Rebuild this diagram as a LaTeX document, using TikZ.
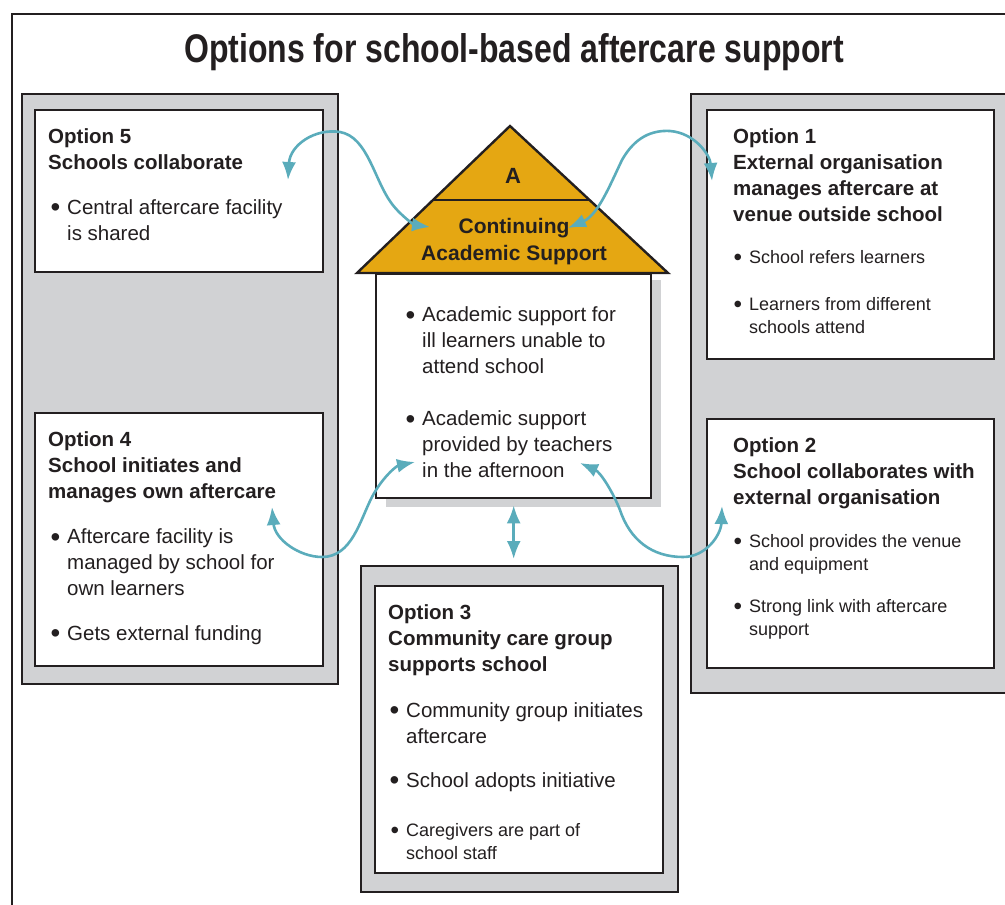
\documentclass[tikz,border=0pt]{standalone}
\usepackage{fontspec}
\usepackage{graphicx}
\setmainfont{Liberation Sans}
\newfontfamily\titlefont[FakeStretch=0.80]{Liberation Sans}
\usetikzlibrary{arrows.meta}
\usetikzlibrary{calc,positioning}

\definecolor{ink}{HTML}{231F20}
\definecolor{panelgray}{HTML}{D1D2D4}
\definecolor{roofgold}{HTML}{E5A712}
\definecolor{linkteal}{HTML}{5AACBB}

\tikzset{
  frame/.style={draw=ink, line width=2pt},
  panel/.style={draw=ink, line width=2pt, fill=panelgray, anchor=north west, inner sep=0pt},
  card/.style={draw=ink, line width=2.4pt, fill=white, anchor=north west, inner sep=0pt},
  head/.style={anchor=base west, align=left, inner sep=0pt, text=ink, font=\fontsize{20.5}{26}\selectfont\bfseries},
  item/.style={anchor=base west, align=left, inner sep=0pt, text=ink, font=\fontsize{20.5}{25.7}\selectfont},
  smallitem/.style={item, font=\fontsize{18}{23}\selectfont},
  link/.style={draw=linkteal, line width=2.6pt, {Latex[length=18pt,width=14pt]}-{Latex[length=18pt,width=14pt]}},
}
\newcommand{\bul}{\llap{\raisebox{-2.5pt}{\scalebox{1.35}{\textbullet}}\hspace{7pt}}}

\begin{document}
\begin{tikzpicture}[x=1pt, y=-1pt]
  \useasboundingbox (0,0) rectangle (1005,905);
  \draw[frame] (12,915) -- (12,14) -- (1015,14);

  \node[anchor=base, text=ink, font=\titlefont\fontsize{40}{44}\selectfont\bfseries] (title) at (514,62) {Options for school-based aftercare support};

  % side panels
  \node[panel, minimum width=316, minimum height=590] (leftpanel) at (21,93) {};
  \node[panel, minimum width=330, minimum height=599] (rightpanel) at (690,93) {};
  \node[panel, minimum width=317, minimum height=326] (midpanel) at (360,565) {};

  \node[card, minimum width=288, minimum height=162] (opt5) at (34,109) {};
  \node[card, minimum width=288, minimum height=253] (opt4) at (34,412) {};
  \node[card, minimum width=287, minimum height=249] (opt1) at (706,109) {};
  \node[card, minimum width=287, minimum height=249] (opt2) at (706,418) {};
  \node[card, minimum width=288, minimum height=287] (opt3) at (374,585) {};

  % house
  \coordinate (roofL) at (357,273);
  \coordinate (apex) at (510,126);
  \coordinate (roofR) at (668,273);
  \fill[panelgray, shift={(12,7)}] (roofL) -- (apex) -- (roofR) -- cycle;
  \fill[panelgray] (386,280) rectangle (661,507);
  \node[card, minimum width=275, minimum height=224] (body) at (375,273) {};
  \draw[draw=ink, line width=2.4pt, fill=roofgold, line join=miter] (roofL) -- (apex) -- (roofR) -- cycle;
  \draw[draw=ink, line width=2.4pt] ($(roofL)!0.497!(apex)$) -- ($(roofR)!0.497!(apex)$);
  \node[anchor=base, text=ink, font=\fontsize{22}{26}\selectfont\bfseries] (roofA) at (513,183) {A};
  \node[anchor=base, align=center, text=ink, font=\fontsize{21}{27}\selectfont\bfseries] (roofname) at (514,260) {Continuing\\Academic Support};

  % texts (placed at the baseline of their last line)
  \node[head] (h5) at (48,169) {Option 5\\Schools collaborate};
  \node[item] (b5a) at (67,240) {\bul Central aftercare facility\\is shared};

  \node[head] (h4) at (48,498) {Option 4\\School initiates and\\manages own aftercare};
  \node[item] (b4a) at (67,595) {\bul Aftercare facility is\\managed by school for\\own learners};
  \node[item] (b4b) at (67,640) {\bul Gets external funding};

  \node[head] (h1) at (733,221) {Option 1\\External organisation\\manages aftercare at\\venue outside school};
  \node[smallitem] (b1a) at (749,263) {\bul School refers learners};
  \node[smallitem] (b1b) at (749,333) {\bul Learners from different\\schools attend};

  \node[head] (h2) at (733,504) {Option 2\\School collaborates with\\external organisation};
  \node[smallitem] (b2a) at (749,570) {\bul School provides the venue\\and equipment};
  \node[smallitem] (b2b) at (749,635) {\bul Strong link with aftercare\\support};

  \node[item] (bha) at (422,373) {\bul Academic support for\\ill learners unable to\\attend school};
  \node[item] (bhb) at (422,477) {\bul Academic support\\provided by teachers\\in the afternoon};

  \node[head] (h3) at (388,671) {Option 3\\Community care group\\supports school};
  \node[item] (b3a) at (406,743) {\bul Community group initiates\\aftercare};
  \node[item] (b3b) at (406,787) {\bul School adopts initiative};
  \node[smallitem] (b3c) at (406,859) {\bul Caregivers are part of\\school staff};

  % links
  \coordinate (e5) at (288,180);
  \coordinate (eh5) at (430,227);
  \coordinate (e1) at (712,181);
  \coordinate (eh1) at (568,228);
  \coordinate (e4) at (272,507);
  \coordinate (eh4) at (415,462);
  \coordinate (e2) at (722,506);
  \coordinate (eh2) at (580,463);
  \coordinate (bt) at ([yshift=-6pt]body.south);
  \coordinate (mt) at (bt |- {(0,559)});

  \draw[link] (e5) .. controls (290,145) and (315,128) .. (340,132) .. controls (368,137) and (374,180) .. (392,204) .. controls (402,217) and (415,225) .. (eh5);
  \draw[link] (eh1) .. controls (598,215) and (610,185) .. (622,160) .. controls (635,137) and (652,130) .. (670,131) .. controls (695,133) and (710,155) .. (e1);
  \draw[link] (e4) .. controls (275,540) and (300,557) .. (322,557) .. controls (352,557) and (360,520) .. (372,497) .. controls (382,478) and (396,466) .. (eh4);
  \draw[link] (eh2) .. controls (600,472) and (612,490) .. (620,510) .. controls (630,540) and (652,557) .. (683,557) .. controls (706,557) and (721,535) .. (e2);
  \draw[link] (bt) -- (mt);
\end{tikzpicture}
\end{document}
